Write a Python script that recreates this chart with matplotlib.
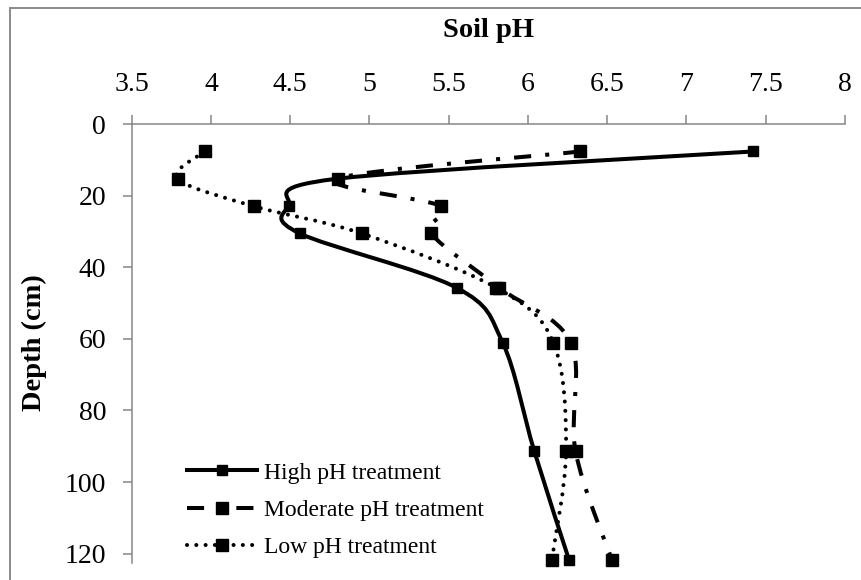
import numpy as np
import matplotlib
matplotlib.use('Agg')
import matplotlib.pyplot as plt
from matplotlib.path import Path
from matplotlib.patches import PathPatch, Rectangle
from matplotlib.lines import Line2D

# depth of each sampled layer (cm) and soil pH per treatment
depth = [7.6, 15.2, 22.9, 30.5, 45.7, 61.0, 91.4, 121.9]
high_ph = [7.42, 4.80, 4.49, 4.56, 5.55, 5.84, 6.04, 6.26]
moderate_ph = [6.33, 4.80, 5.45, 5.39, 5.82, 6.27, 6.30, 6.53]
low_ph = [3.96, 3.79, 4.27, 4.95, 5.80, 6.16, 6.24, 6.15]
labels = ['High pH treatment', 'Moderate pH treatment', 'Low pH treatment']

x_ticks = [3.5, 4, 4.5, 5, 5.5, 6, 6.5, 7, 7.5, 8]
y_ticks = [0, 20, 40, 60, 80, 100, 120]

plt.rcParams['font.family'] = ['Liberation Serif', 'DejaVu Serif']

AXIS_GRAY = '#868686'


def smooth_path(x, y):
    # excel style smoothed line: catmull-rom turned into cubic bezier pieces
    pts = np.column_stack([x, y])
    n = len(pts)
    verts = [pts[0]]
    codes = [Path.MOVETO]
    for i in range(n - 1):
        p0 = pts[max(i - 1, 0)]
        p1 = pts[i]
        p2 = pts[i + 1]
        p3 = pts[min(i + 2, n - 1)]
        verts += [p1 + (p2 - p0) / 6, p2 - (p3 - p1) / 6, p2]
        codes += [Path.CURVE4] * 3
    return Path(verts, codes)


fig = plt.figure(figsize=(8.61, 5.80), dpi=100)
ax = fig.add_axes([131.7 / 861, 1 - 562.5 / 580, (845 - 131.7) / 861, (562.5 - 124.3) / 580])

styles = [
    dict(ls='-', lw=2.9, ms=7.0, cap='butt'),
    dict(ls=(0, (4.25, 3.5, 1.0, 3.5)), lw=2.9, ms=8.5, cap='butt'),
    dict(ls=(0, (0.01, 2.3)), lw=2.9, ms=8.0, cap='round'),
]

handles = []
for vals, st, lab in zip([high_ph, moderate_ph, low_ph], styles, labels):
    patch = PathPatch(smooth_path(vals, depth), fill=False, edgecolor='black',
                      lw=st['lw'], linestyle=st['ls'], capstyle=st['cap'],
                      joinstyle='round', transform=ax.transData, clip_on=False)
    ax.add_patch(patch)
    ax.plot(vals, depth, linestyle='none', marker='s', ms=st['ms'],
            color='black', clip_on=False, zorder=3)
    handles.append(Line2D([], [], color='black', lw=st['lw'], linestyle=st['ls'],
                          dash_capstyle=st['cap'], marker='s', ms=st['ms']))

ax.set_xlim(3.5, 8)
ax.set_ylim(122.5, 0)
ax.set_xticks(x_ticks)
ax.set_xticklabels(['%g' % v for v in x_ticks])
ax.set_yticks(y_ticks)

for side in ['right', 'bottom']:
    ax.spines[side].set_visible(False)
for side in ['top', 'left']:
    ax.spines[side].set_color(AXIS_GRAY)
    ax.spines[side].set_linewidth(1.1)

ax.xaxis.tick_top()
ax.tick_params(axis='x', direction='out', length=6.5, width=1.1, color=AXIS_GRAY,
               labelsize=20, pad=13)
ax.tick_params(axis='y', direction='out', length=6.5, width=1.1, color=AXIS_GRAY,
               labelsize=20, pad=12)

fig.text(0.5 * (131.7 + 845) / 861, 1 - 37 / 580, 'Soil pH', ha='center', va='baseline',
         fontsize=20.5, fontweight='bold')
fig.text(34.5 / 861, 1 - 343 / 580, 'Depth (cm)', ha='center', va='center',
         rotation=90, fontsize=20.5, fontweight='bold')

fig.legend(handles, labels, loc='center left', bbox_to_anchor=(187 / 861, 1 - 510 / 580),
           bbox_transform=fig.transFigure, frameon=False, fontsize=17, numpoints=1,
           handlelength=2.97, handletextpad=0.3, labelspacing=0.66,
           borderpad=0, borderaxespad=0)

# grey chart-area border, cut off at the right and bottom
fig.patches.append(Rectangle((9.5 / 861, -0.1), 1.2, 1.1 - 7.5 / 580,
                             transform=fig.transFigure, fill=False,
                             edgecolor='#8a8a8a', lw=1.4))

fig.savefig('out.png', dpi=100)
